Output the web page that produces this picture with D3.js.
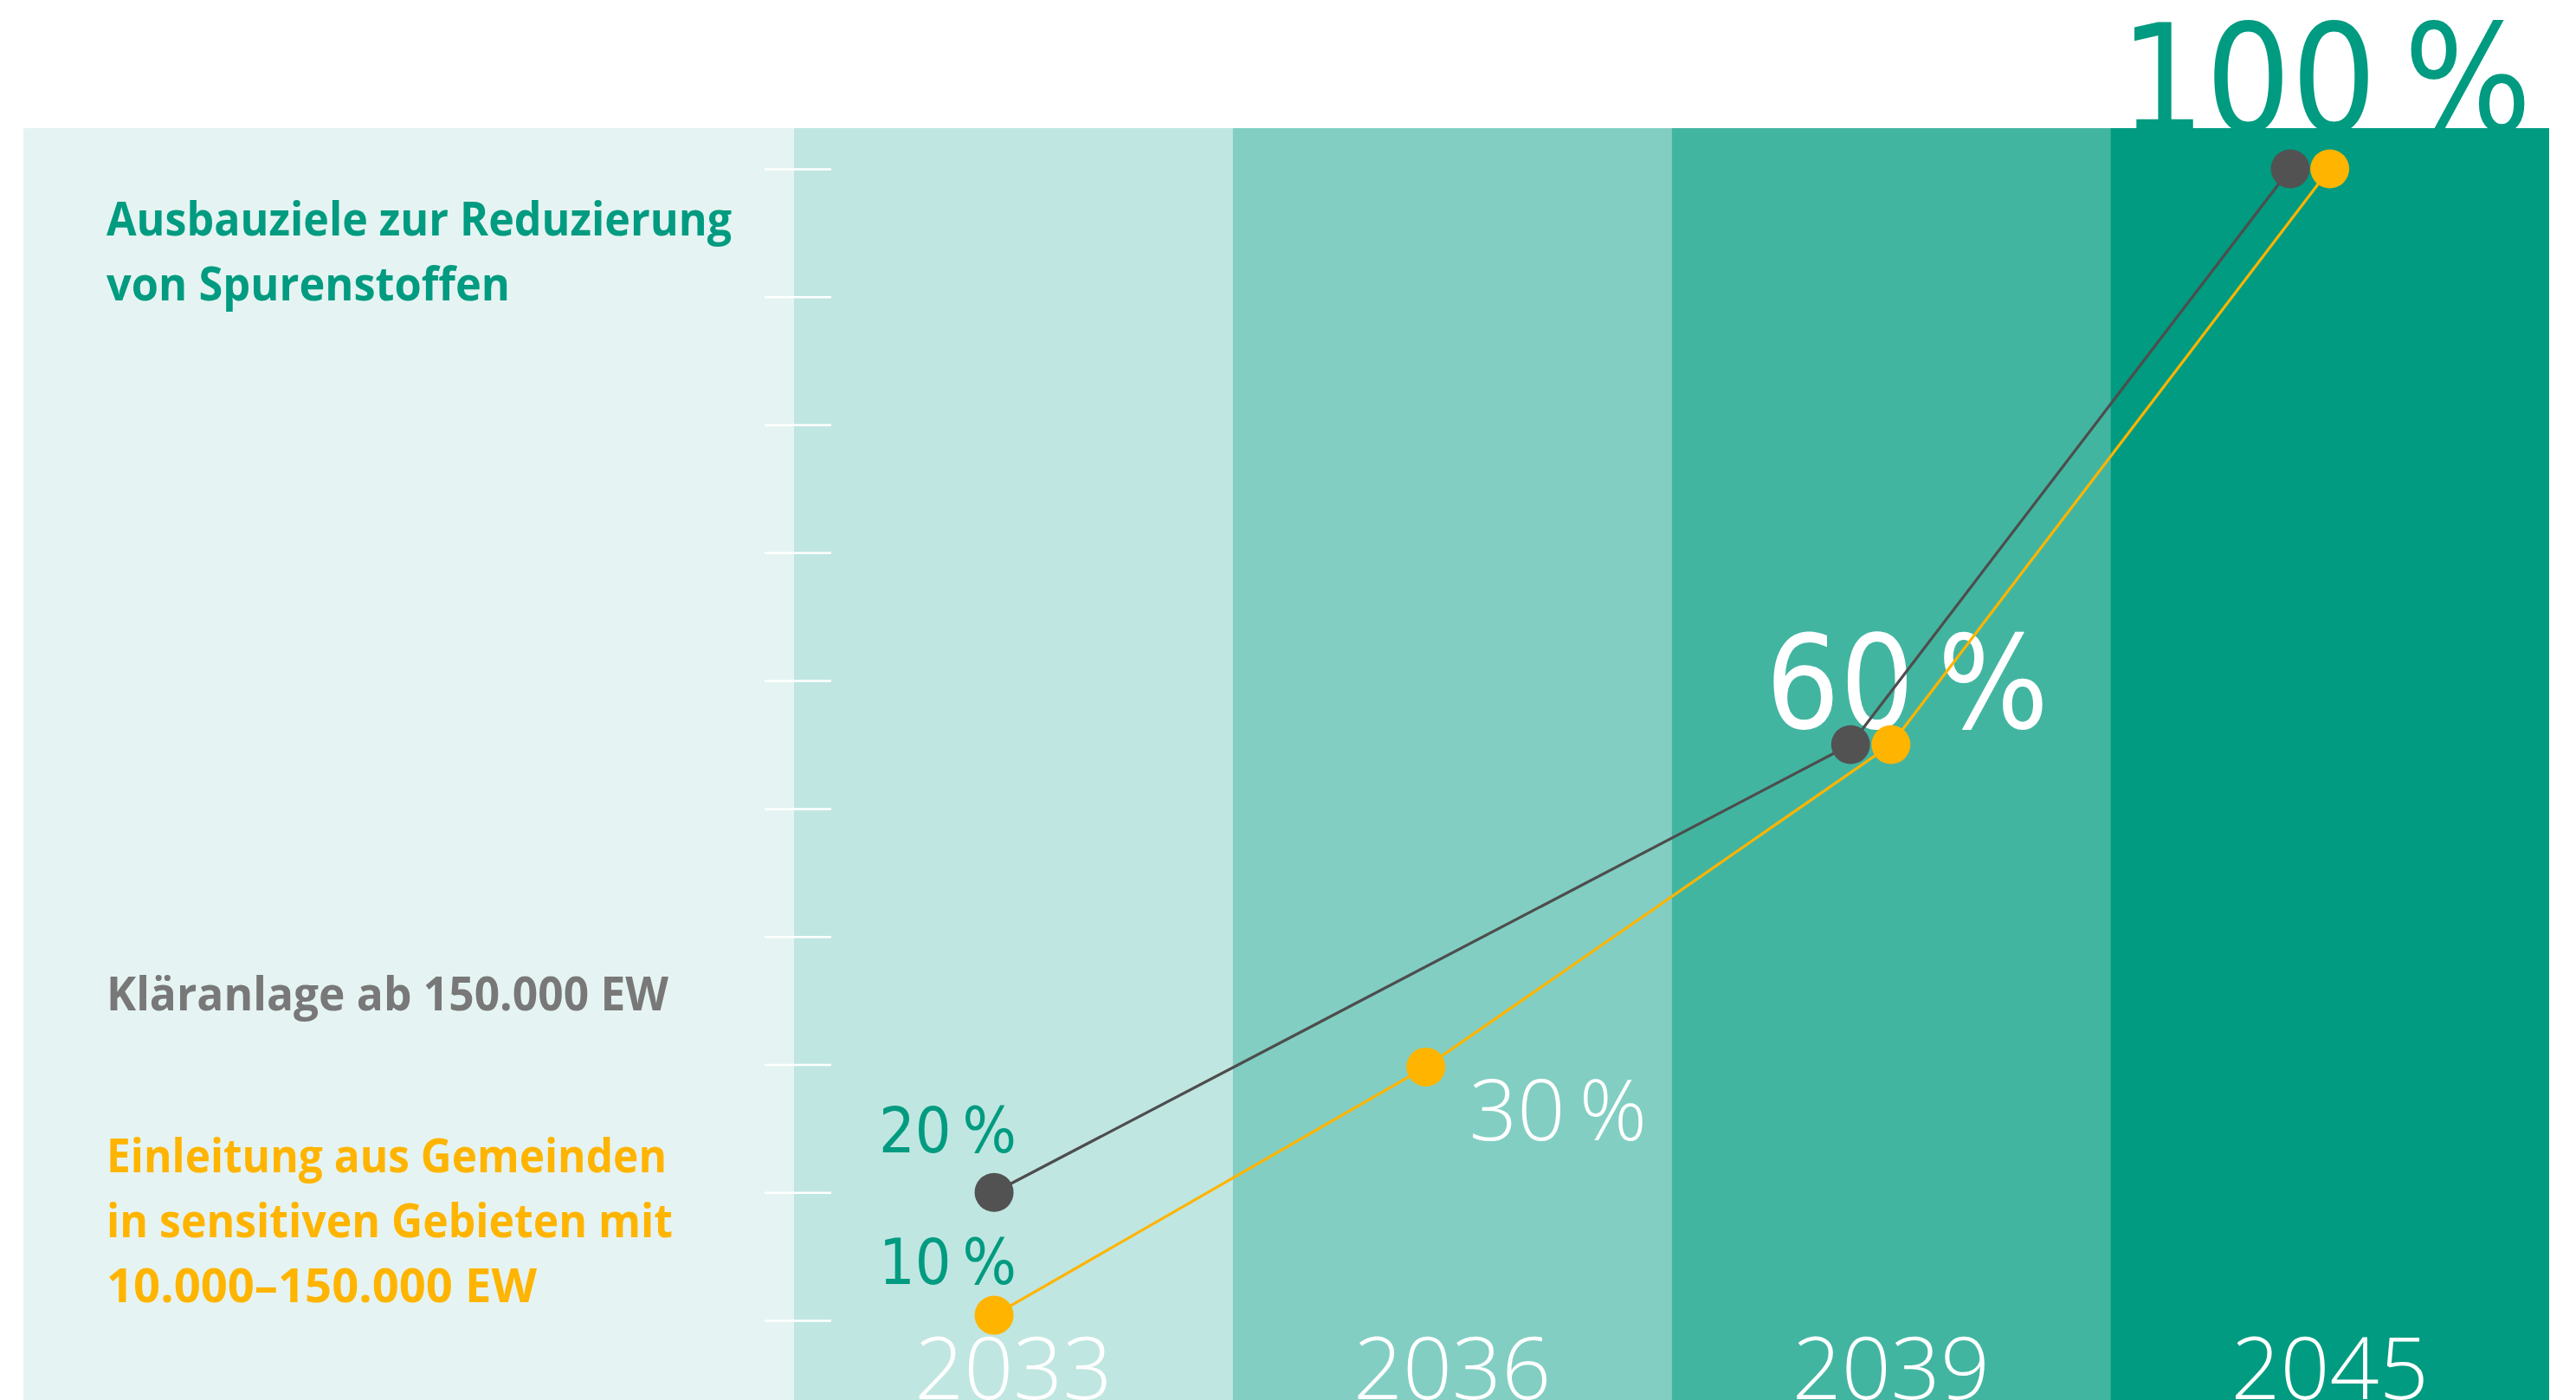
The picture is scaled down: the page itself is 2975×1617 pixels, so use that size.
<!DOCTYPE html>
<html><head><meta charset="utf-8">
<script src="https://cdn.jsdelivr.net/npm/d3@7"></script>
<style>body{margin:0;background:#fff;overflow:hidden} svg{display:block}</style>
</head><body><svg id="c" width="2975" height="1617"></svg>
<script>
// ---- data ----
const years = ["2033", "2036", "2039", "2045"];
const tickValues = [10, 20, 30, 40, 50, 60, 70, 80, 90, 100];
const grayYears = ["2033", "2039", "2045"];
const grayValues = [20, 55, 100];
const grayPos = [0.456, 0.408, 0.41];      // position inside the year column (0..1)
const orangeYears = ["2033", "2036", "2039", "2045"];
const orangeValues = [10.4, 29.8, 55, 100];
const orangePos = [0.456, 0.44, 0.5, 0.5];
const valueLabels = ["20\u2009%", "10\u2009%", "30\u2009%", "60\u2009%", "100\u2009%"];
const titleLines = ["Ausbauziele zur Reduzierung", "von Spurenstoffen"];
const grayLegend = ["Kläranlage ab 150.000 EW"];
const orangeLegend = ["Einleitung aus Gemeinden", "in sensitiven Gebieten mit", "10.000–150.000 EW"];

// ---- styles ----
const colBand = ["#C0E6E1", "#82CEC2", "#42B5A1", "#009B80"];
const TEAL = "#009B80", GRAY = "#525252", ORANGE = "#FFB400", GRAYTXT = "#787878";
const fontCond = "'DejaVu Sans Condensed', 'DejaVu Sans', sans-serif";
const fontLight = "'Open Sans', 'Noto Sans', sans-serif";

const svg = d3.select("#c");
const x = d3.scaleBand().domain(years).range([917, 2944]).padding(0);
const y = d3.scaleLinear().domain([10, 100]).range([1525, 195]);
const bw = x.bandwidth();

// background panel
svg.append("rect").attr("x", 27).attr("y", 148).attr("width", 2944 - 27).attr("height", 1617 - 148).attr("fill", "#E5F4F2");
svg.selectAll("rect.col").data(years).enter().append("rect").attr("class", "col")
  .attr("x", d => x(d)).attr("y", 148).attr("width", bw).attr("height", 1617 - 148)
  .attr("fill", (d, i) => colBand[i]);

// tick marks
const ax = svg.append("g").attr("transform", "translate(883,0)")
  .call(d3.axisRight(y).tickValues(tickValues).tickSize(77).tickFormat(""));
ax.select(".domain").remove();
ax.selectAll(".tick line").attr("stroke", "#ffffff").attr("stroke-width", 2.5);

function big(txt, xx, yy, size, fill, fam, wt, targetW) {
  const t = svg.append("text").attr("x", xx).attr("y", yy).attr("text-anchor", "end")
    .attr("font-family", fam).attr("font-weight", wt).attr("font-size", size)
    .attr("fill", fill).text(txt);
  if (fam === fontCond) t.attr("font-stretch", "condensed");
  // keep the reference width if the condensed face is not available
  const w = t.node().getComputedTextLength();
  if (targetW && w > targetW * 1.03) {
    t.attr("textLength", targetW).attr("lengthAdjust", "spacingAndGlyphs").attr("text-anchor", "start").attr("x", xx - targetW);
  }
}

// series
const gray = grayYears.map((yr, i) => ({ yr, v: grayValues[i], p: grayPos[i] }));
const orange = orangeYears.map((yr, i) => ({ yr, v: orangeValues[i], p: orangePos[i] }));
const line = d3.line().x(d => x(d.yr) + d.p * bw).y(d => y(d.v));

big(valueLabels[4], 2924, 152, 173, TEAL, fontCond, 400, 480);
big(valueLabels[3], 2366, 841, 150, "#ffffff", fontCond, 400, 340);
big(valueLabels[2], 1902, 1317, 97, "#ffffff", fontLight, 300);
big(valueLabels[0], 1174, 1331, 73, TEAL, fontCond, 400, 166);
big(valueLabels[1], 1174, 1483, 73, TEAL, fontCond, 400, 166);

svg.append("path").datum(gray).attr("d", line).attr("fill", "none").attr("stroke", "#4d4d4d").attr("stroke-width", 3.2);
svg.append("path").datum(orange).attr("d", line).attr("fill", "none").attr("stroke", ORANGE).attr("stroke-width", 3.2);
svg.selectAll("circle.g").data(gray).enter().append("circle").attr("class", "g")
  .attr("cx", d => x(d.yr) + d.p * bw).attr("cy", d => y(d.v)).attr("r", 22.5).attr("fill", GRAY);
svg.selectAll("circle.o").data(orange).enter().append("circle").attr("class", "o")
  .attr("cx", d => x(d.yr) + d.p * bw).attr("cy", d => y(d.v)).attr("r", 22.5).attr("fill", ORANGE);

// year labels
svg.selectAll("text.yr").data(years).enter().append("text").attr("class", "yr")
  .attr("x", d => x(d) + bw / 2).attr("y", 1616).attr("text-anchor", "middle")
  .attr("font-family", fontLight).attr("font-weight", 300).attr("font-size", 100)
  .attr("fill", "#ffffff").text(d => d);

// legend texts
function legend(lines, y0, fill, widths) {
  lines.forEach((t, i) => {
    svg.append("text").attr("x", 123).attr("y", y0 + i * 75)
      .attr("font-family", "'Open Sans', 'Noto Sans', sans-serif").attr("font-weight", 700)
      .attr("font-size", 53).attr("fill", fill)
      .attr("textLength", widths[i]).attr("lengthAdjust", "spacingAndGlyphs").text(t);
  });
}
legend(titleLines, 272, TEAL, [722, 466]);
legend(grayLegend, 1167, GRAYTXT, [649]);
legend(orangeLegend, 1354, ORANGE, [647, 654, 497]);
</script></body></html>
